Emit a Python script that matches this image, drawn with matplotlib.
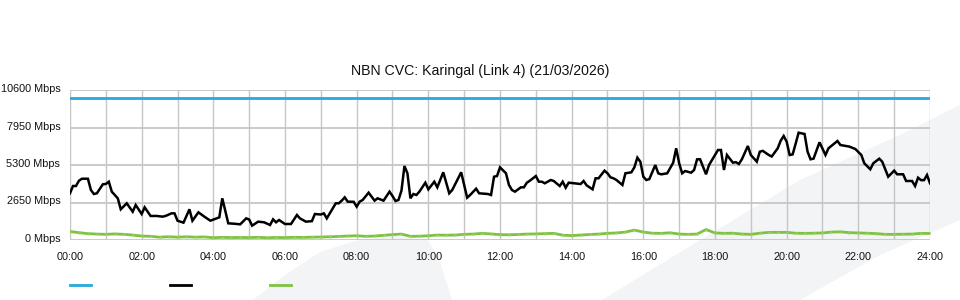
import matplotlib
matplotlib.use("Agg")
import matplotlib.pyplot as plt
import matplotlib.transforms as mtransforms
from matplotlib.patches import Polygon
from matplotlib.lines import Line2D

# capacity of the link (Mbps)
capacity = 10000

# black series at its corners
black_times = [
    "00:00", "00:05", "00:10", "00:15", "00:20", "00:30", "00:35", "00:40", "00:45", "00:55",
    "01:00", "01:05", "01:10", "01:20", "01:25", "01:35", "01:45", "01:50", "02:00", "02:05",
    "02:15", "02:25", "02:35", "02:40", "02:50", "02:55", "03:00", "03:10", "03:20", "03:25",
    "03:35", "03:45", "03:55", "04:10", "04:15", "04:25", "04:35", "04:45", "04:55", "05:00",
    "05:05", "05:15", "05:25", "05:35", "05:40", "05:45", "05:50", "06:00", "06:10", "06:20",
    "06:25", "06:35", "06:45", "06:50", "07:00", "07:05", "07:10", "07:20", "07:25", "07:30",
    "07:35", "07:40", "07:45", "07:55", "08:00", "08:05", "08:10", "08:20", "08:30", "08:35",
    "08:45", "08:55", "09:00", "09:05", "09:10", "09:15", "09:20", "09:25", "09:30", "09:35",
    "09:40", "09:45", "09:55", "10:00", "10:10", "10:15", "10:25", "10:35", "10:40", "10:55",
    "11:05", "11:10", "11:20", "11:25", "11:40", "11:45", "11:50", "11:55", "12:00", "12:10",
    "12:15", "12:20", "12:25", "12:35", "12:40", "12:45", "12:50", "13:00", "13:05", "13:10",
    "13:15", "13:25", "13:30", "13:40", "13:45", "13:50", "13:55", "14:05", "14:15", "14:20",
    "14:25", "14:35", "14:40", "14:45", "14:55", "15:00", "15:05", "15:10", "15:15", "15:25",
    "15:30", "15:40", "15:45", "15:50", "15:55", "16:00", "16:05", "16:10", "16:20", "16:25",
    "16:30", "16:40", "16:50", "16:55", "17:00", "17:05", "17:10", "17:20", "17:25", "17:30",
    "17:35", "17:45", "17:50", "17:55", "18:05", "18:10", "18:15", "18:20", "18:30", "18:35",
    "18:40", "18:45", "18:55", "19:00", "19:10", "19:15", "19:20", "19:30", "19:35", "19:45",
    "19:50", "19:55", "20:00", "20:05", "20:10", "20:15", "20:20", "20:30", "20:35", "20:40",
    "20:45", "20:55", "21:05", "21:10", "21:25", "21:30", "21:40", "21:45", "21:55", "22:05",
    "22:10", "22:20", "22:25", "22:35", "22:40", "22:50", "23:00", "23:05", "23:15", "23:20",
    "23:30", "23:35", "23:40", "23:45", "23:50", "23:55", "24:00",
]
black_mbps = [
    3300, 3816, 3816, 4190, 4330, 4330, 3533, 3250, 3300, 3936,
    3960, 4120, 3413, 2946, 2170, 2593, 2000, 2473, 1837, 2310,
    1696, 1700, 1650, 1700, 1884, 1884, 1364, 1225, 2170, 1364,
    1955, 1650, 1364, 1600, 2946, 1178, 1150, 1107, 1530, 1450,
    1013, 1296, 1250, 1060, 1460, 1250, 1413, 1130, 1130, 1767,
    1530, 1296, 1330, 1837, 1800, 1884, 1530, 2240, 2593, 2593,
    2780, 3015, 2710, 2700, 2356, 2710, 2827, 3345, 2780, 2946,
    2780, 3415, 3109, 2756, 2827, 3486, 5230, 4713, 2946, 3250,
    3180, 3415, 4050, 3580, 4120, 3722, 4784, 3300, 3533, 4784,
    2991, 3180, 3627, 3300, 3250, 3180, 4473, 4520, 5136, 4713,
    3887, 3533, 3415, 3722, 3722, 4050, 4190, 4520, 4120, 4120,
    4007, 4240, 4170, 3816, 4120, 3698, 4050, 4007, 3957, 4170,
    3863, 3580, 4360, 4360, 4900, 4713, 4430, 4360, 4240, 3887,
    4713, 4784, 5136, 5817, 5535, 4473, 4240, 4300, 5300, 4713,
    4640, 4713, 5463, 6480, 5420, 4713, 4876, 4756, 4947, 5703,
    5703, 4643, 5300, 5653, 6360, 6360, 4947, 6007, 5463, 5500,
    5371, 5703, 6643, 6007, 5535, 6240, 6300, 6007, 5900, 6480,
    7017, 7350, 6947, 6007, 6050, 6800, 7583, 7490, 6240, 5703,
    5750, 6904, 6007, 6480, 6996, 6713, 6640, 6600, 6431, 6007,
    5420, 4996, 5420, 5746, 5535, 4473, 4900, 4643, 4643, 4170,
    4170, 3816, 4403, 4230, 4230, 4593, 4007,
]

# green series, every 15 minutes
green_mbps = [
    600, 520, 450, 420, 400, 430, 400, 350,
    280, 260, 200, 230, 200, 230, 200, 220,
    160, 190, 170, 180, 170, 190, 160, 180,
    170, 190, 180, 200, 210, 230, 250, 280,
    300, 260, 280, 330, 380, 420, 260, 270,
    300, 350, 340, 350, 400, 420, 470, 430,
    380, 370, 390, 420, 430, 450, 470, 340,
    310, 350, 390, 420, 470, 500, 560, 700,
    560, 480, 470, 510, 420, 400, 420, 740,
    500, 470, 480, 420, 400, 480, 540, 540,
    540, 480, 470, 480, 500, 560, 580, 520,
    500, 480, 450, 400, 400, 410, 420, 470,
    460,
]

y_ticks = [0, 2650, 5300, 7950, 10600]
x_ticks = [0, 2, 4, 6, 8, 10, 12, 14, 16, 18, 20, 22, 24]

blue = "#27a8e0"
green = "#7fc241"
grid_col = "#c6c6c6"


def to_hours(s):
    h, m = s.split(":")
    return int(h) + int(m) / 60


black_h = [to_hours(t) for t in black_times]
green_h = [i * 0.25 for i in range(len(green_mbps))]

plt.rcParams["font.family"] = ["Liberation Sans", "DejaVu Sans"]

W, H = 960, 300
fig = plt.figure(figsize=(W / 100, H / 100), dpi=100)


def fpx(pts):
    # pixel coords (from top left) -> figure fraction
    return [(x / W, 1 - y / H) for x, y in pts]


# faint background swooshes
fin = [(253, 300), (285, 275), (320, 252), (355, 241), (395, 236), (428, 240),
       (440, 262), (452, 300)]
band = [(602, 300), (700, 240), (800, 180), (900, 135), (960, 105),
        (960, 220), (880, 255), (800, 300)]
for shape in (fin, band):
    fig.patches.append(Polygon(fpx(shape), closed=True, transform=fig.transFigure,
                               facecolor="#f3f4f6", edgecolor="none", zorder=-5))

ax = fig.add_axes([70 / W, 60 / H, 860 / W, 150 / H])
ax.set_facecolor("none")
ax.set_zorder(2)

for v in y_ticks:
    ax.axhline(v, color=grid_col, lw=1.3, zorder=1)
for h in range(25):
    ax.axvline(h, color=grid_col, lw=1.0, zorder=1)

ax.plot([0, 24], [capacity, capacity], color=blue, lw=2.0, zorder=3)
ax.plot(black_h, black_mbps, color="black", lw=1.8, zorder=4,
        solid_joinstyle="miter")
ax.plot(green_h, green_mbps, color=green, lw=2.0, zorder=3,
        marker="s", ms=1.6, mfc="#9ad368", mec="none")

ax.set_xlim(0, 24)
ax.set_ylim(0, 10600)
ax.set_xticks(x_ticks)
ax.set_xticklabels([f"{h:02d}:00" for h in x_ticks])
ax.set_yticks(y_ticks)
ax.set_yticklabels([f"{v} Mbps" for v in y_ticks])
ax.tick_params(length=0, labelsize=7.8, colors="#111111")
ax.tick_params(axis="x", pad=9)
ax.tick_params(axis="y", pad=7)
for s in ax.spines.values():
    s.set_visible(False)

# y labels sit a couple of pixels above their grid lines
lift = mtransforms.ScaledTranslation(0, 2 / 100, fig.dpi_scale_trans)
for lab in ax.get_yticklabels():
    lab.set_transform(lab.get_transform() + lift)

fig.text(480 / W, 1 - 71 / H, "NBN CVC: Karingal (Link 4) (21/03/2026)",
         ha="center", va="center", fontsize=10.2, color="#111111")

# legend swatches, no labels
for x0, c in [(70, blue), (170, "black"), (270, green)]:
    fig.lines.append(Line2D([x0 / W, (x0 + 21) / W], [1 - 285 / H] * 2,
                            transform=fig.transFigure, color=c, lw=2.0))

fig.savefig("out.png", dpi=100)
